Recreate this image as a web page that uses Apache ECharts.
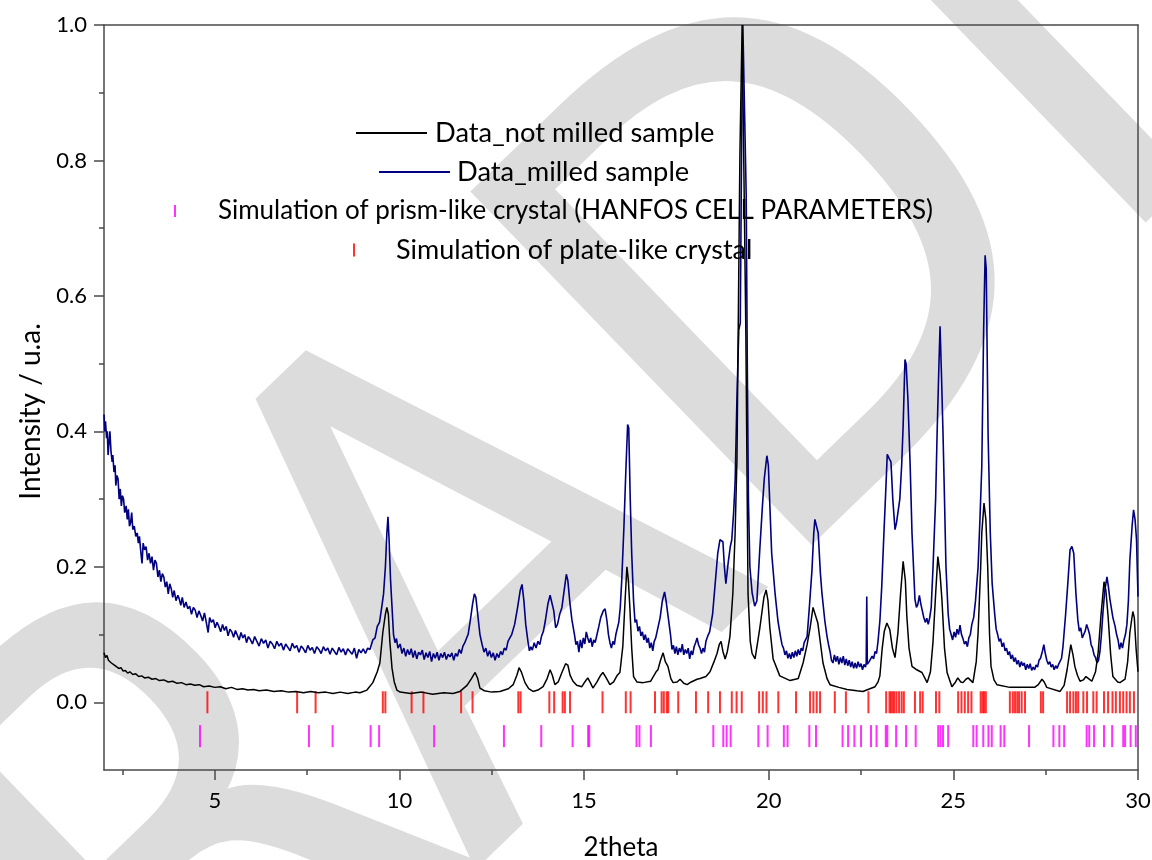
<!DOCTYPE html>
<html>
<head>
<meta charset="utf-8">
<script src="https://cdn.jsdelivr.net/npm/echarts@6/dist/echarts.min.js"></script>
<style>
html,body{margin:0;padding:0;background:#fff;}
#chart{width:1152px;height:860px;}
</style>
</head>
<body>
<div id="chart"></div>
<script>
// ---- data ----
const notMilled = [
[2.00,0.073],[2.04,0.066],[2.08,0.069],[2.12,0.062],[2.16,0.063],[2.20,0.058],[2.25,0.059],[2.30,0.054],
[2.35,0.055],[2.40,0.050],[2.46,0.051],[2.52,0.046],[2.58,0.047],[2.64,0.043],[2.70,0.045],[2.78,0.041],
[2.86,0.042],[2.94,0.038],[3.02,0.039],[3.10,0.036],[3.20,0.037],[3.30,0.034],[3.40,0.035],[3.50,0.032],
[3.62,0.033],[3.74,0.030],[3.86,0.031],[3.98,0.028],[4.10,0.029],[4.22,0.026],[4.34,0.027],[4.46,0.025],
[4.58,0.026],[4.70,0.023],[4.85,0.024],[5.00,0.022],[5.15,0.023],[5.30,0.020],[5.45,0.022],[5.60,0.019],
[5.75,0.020],[5.90,0.018],[6.05,0.019],[6.20,0.017],[6.40,0.018],[6.60,0.016],[6.80,0.017],[7.00,0.015],
[7.20,0.016],[7.40,0.014],[7.60,0.016],[7.80,0.014],[8.00,0.015],[8.20,0.013],[8.40,0.015],[8.60,0.013],
[8.80,0.015],[8.93,0.014],[9.12,0.018],[9.28,0.029],[9.40,0.045],[9.47,0.058],[9.55,0.103],[9.62,0.130],
[9.66,0.140],[9.70,0.130],[9.74,0.090],[9.80,0.050],[9.86,0.030],[9.93,0.018],[10.02,0.015],[10.30,0.013],
[10.60,0.015],[10.90,0.012],[11.20,0.014],[11.45,0.013],[11.64,0.016],[11.83,0.025],[11.95,0.035],[12.05,0.044],
[12.12,0.035],[12.18,0.021],[12.30,0.017],[12.50,0.015],[12.72,0.016],[12.95,0.020],[13.08,0.026],[13.18,0.040],
[13.24,0.051],[13.30,0.045],[13.40,0.029],[13.50,0.020],[13.62,0.016],[13.75,0.018],[13.89,0.023],[14.00,0.035],
[14.08,0.048],[14.14,0.040],[14.21,0.026],[14.30,0.030],[14.40,0.044],[14.50,0.057],[14.56,0.055],[14.62,0.040],
[14.70,0.031],[14.80,0.025],[14.94,0.023],[15.02,0.030],[15.10,0.036],[15.18,0.028],[15.24,0.021],[15.35,0.030],
[15.45,0.040],[15.51,0.044],[15.58,0.038],[15.70,0.026],[15.80,0.030],[15.90,0.040],[15.97,0.044],[16.05,0.083],
[16.11,0.150],[16.16,0.200],[16.20,0.180],[16.24,0.140],[16.29,0.080],[16.34,0.038],[16.43,0.030],[16.60,0.029],
[16.80,0.031],[16.95,0.045],[17.00,0.048],[17.07,0.062],[17.14,0.073],[17.20,0.060],[17.27,0.053],[17.35,0.035],
[17.41,0.029],[17.52,0.030],[17.60,0.034],[17.70,0.028],[17.79,0.026],[17.90,0.030],[18.06,0.034],[18.14,0.035],
[18.30,0.038],[18.41,0.045],[18.52,0.060],[18.60,0.072],[18.66,0.085],[18.71,0.090],[18.76,0.075],[18.82,0.064],
[18.88,0.075],[18.95,0.097],[19.03,0.162],[19.09,0.250],[19.14,0.358],[19.22,0.810],[19.28,1.000],[19.33,1.000],
[19.38,0.550],[19.44,0.160],[19.50,0.090],[19.55,0.072],[19.63,0.064],[19.76,0.110],[19.87,0.155],[19.93,0.166],
[19.98,0.150],[20.03,0.110],[20.12,0.064],[20.30,0.039],[20.58,0.032],[20.80,0.035],[20.93,0.058],[21.04,0.085],
[21.12,0.110],[21.20,0.140],[21.25,0.142],[21.33,0.117],[21.47,0.058],[21.58,0.035],[21.66,0.026],[21.90,0.022],
[22.12,0.019],[22.39,0.017],[22.55,0.016],[22.74,0.020],[22.88,0.023],[22.96,0.030],[23.01,0.039],[23.07,0.078],
[23.13,0.105],[23.20,0.117],[23.28,0.107],[23.35,0.080],[23.42,0.066],[23.50,0.103],[23.57,0.160],[23.64,0.208],
[23.70,0.180],[23.74,0.127],[23.80,0.080],[23.88,0.053],[24.01,0.048],[24.15,0.044],[24.29,0.029],[24.38,0.045],
[24.45,0.090],[24.52,0.160],[24.58,0.215],[24.64,0.190],[24.69,0.152],[24.76,0.080],[24.83,0.044],[24.96,0.023],
[25.06,0.030],[25.12,0.036],[25.20,0.030],[25.26,0.029],[25.34,0.034],[25.40,0.036],[25.53,0.029],[25.62,0.060],
[25.67,0.103],[25.74,0.200],[25.77,0.250],[25.83,0.294],[25.88,0.270],[25.93,0.200],[25.98,0.100],[26.02,0.053],
[26.10,0.033],[26.18,0.026],[26.53,0.022],[26.88,0.022],[27.20,0.022],[27.30,0.026],[27.40,0.034],[27.46,0.030],
[27.53,0.022],[27.89,0.016],[28.00,0.025],[28.08,0.048],[28.18,0.085],[28.24,0.070],[28.29,0.053],[28.36,0.040],
[28.43,0.031],[28.52,0.033],[28.59,0.038],[28.66,0.035],[28.75,0.031],[28.85,0.045],[28.92,0.073],[29.00,0.130],
[29.08,0.178],[29.13,0.165],[29.19,0.127],[29.26,0.070],[29.32,0.038],[29.45,0.030],[29.51,0.029],[29.65,0.034],
[29.72,0.060],[29.78,0.103],[29.86,0.134],[29.90,0.125],[29.95,0.078],[30.00,0.045]
];

const milled = [
[2.00,0.425],[2.02,0.400],[2.04,0.415],[2.07,0.390],[2.09,0.400],[2.11,0.365],[2.13,0.380],[2.16,0.400],
[2.19,0.370],[2.22,0.355],[2.24,0.365],[2.27,0.340],[2.30,0.350],[2.32,0.320],[2.35,0.335],[2.38,0.330],
[2.41,0.300],[2.44,0.315],[2.47,0.290],[2.50,0.305],[2.53,0.300],[2.56,0.280],[2.60,0.290],[2.63,0.270],
[2.66,0.285],[2.69,0.260],[2.72,0.265],[2.75,0.280],[2.78,0.255],[2.82,0.260],[2.86,0.245],[2.90,0.250],
[2.93,0.235],[2.96,0.245],[3.00,0.220],[3.03,0.205],[3.06,0.235],[3.10,0.225],[3.14,0.230],[3.18,0.210],
[3.22,0.220],[3.26,0.205],[3.30,0.215],[3.34,0.195],[3.38,0.210],[3.42,0.205],[3.46,0.185],[3.50,0.195],
[3.54,0.178],[3.58,0.190],[3.62,0.185],[3.66,0.170],[3.70,0.178],[3.74,0.160],[3.78,0.175],[3.82,0.168],
[3.86,0.155],[3.90,0.165],[3.95,0.150],[4.00,0.158],[4.04,0.152],[4.08,0.143],[4.12,0.155],[4.17,0.140],
[4.22,0.148],[4.27,0.138],[4.32,0.142],[4.37,0.130],[4.42,0.140],[4.47,0.136],[4.52,0.125],[4.57,0.135],
[4.62,0.128],[4.67,0.120],[4.72,0.132],[4.77,0.118],[4.82,0.103],[4.86,0.125],[4.91,0.118],[4.96,0.122],
[5.01,0.110],[5.06,0.118],[5.11,0.112],[5.16,0.104],[5.21,0.115],[5.26,0.106],[5.31,0.112],[5.36,0.098],
[5.41,0.108],[5.46,0.104],[5.51,0.096],[5.56,0.106],[5.61,0.099],[5.66,0.092],[5.71,0.103],[5.76,0.095],
[5.81,0.100],[5.86,0.088],[5.91,0.097],[5.96,0.093],[6.02,0.086],[6.08,0.097],[6.14,0.090],[6.20,0.083],
[6.26,0.094],[6.32,0.087],[6.38,0.092],[6.44,0.080],[6.50,0.090],[6.56,0.086],[6.62,0.079],[6.68,0.090],
[6.74,0.083],[6.80,0.087],[6.86,0.077],[6.92,0.086],[6.98,0.081],[7.04,0.076],[7.10,0.087],[7.16,0.080],
[7.22,0.084],[7.28,0.074],[7.34,0.083],[7.40,0.079],[7.46,0.073],[7.52,0.084],[7.58,0.077],[7.64,0.081],
[7.70,0.072],[7.76,0.082],[7.82,0.078],[7.88,0.072],[7.94,0.082],[8.00,0.076],[8.06,0.080],[8.12,0.071],
[8.18,0.080],[8.24,0.075],[8.30,0.070],[8.36,0.081],[8.42,0.074],[8.48,0.079],[8.54,0.070],[8.60,0.079],
[8.66,0.075],[8.72,0.071],[8.78,0.080],[8.84,0.065],[8.90,0.078],[8.96,0.073],[9.02,0.079],[9.08,0.072],
[9.14,0.080],[9.20,0.078],[9.28,0.092],[9.34,0.095],[9.40,0.112],[9.46,0.118],[9.52,0.140],[9.57,0.160],
[9.62,0.200],[9.66,0.250],[9.69,0.274],[9.72,0.240],[9.76,0.180],[9.80,0.140],[9.84,0.100],[9.88,0.088],
[9.92,0.094],[9.96,0.080],[10.02,0.086],[10.07,0.072],[10.12,0.080],[10.17,0.068],[10.22,0.078],[10.27,0.070],
[10.32,0.079],[10.37,0.066],[10.42,0.076],[10.47,0.064],[10.52,0.074],[10.57,0.070],[10.62,0.077],[10.67,0.063],
[10.72,0.073],[10.77,0.066],[10.82,0.075],[10.87,0.060],[10.92,0.072],[10.97,0.065],[11.02,0.074],[11.07,0.062],
[11.12,0.072],[11.17,0.066],[11.22,0.074],[11.27,0.063],[11.32,0.071],[11.37,0.067],[11.42,0.073],[11.47,0.062],
[11.52,0.072],[11.57,0.068],[11.62,0.078],[11.67,0.072],[11.72,0.083],[11.77,0.088],[11.82,0.095],[11.86,0.100],
[11.93,0.125],[11.98,0.145],[12.03,0.160],[12.07,0.155],[12.12,0.130],[12.18,0.100],[12.24,0.085],[12.29,0.074],
[12.34,0.080],[12.39,0.068],[12.44,0.076],[12.49,0.066],[12.54,0.073],[12.59,0.062],[12.64,0.072],[12.69,0.066],
[12.74,0.075],[12.79,0.070],[12.84,0.080],[12.89,0.077],[12.94,0.090],[12.99,0.095],[13.04,0.100],[13.12,0.115],
[13.20,0.140],[13.27,0.165],[13.32,0.174],[13.37,0.150],[13.42,0.115],[13.48,0.090],[13.52,0.076],[13.56,0.082],
[13.60,0.077],[13.65,0.088],[13.70,0.080],[13.75,0.090],[13.80,0.085],[13.85,0.098],[13.90,0.105],[13.95,0.120],
[14.02,0.145],[14.08,0.158],[14.13,0.160],[14.18,0.135],[14.23,0.110],[14.28,0.115],[14.34,0.130],[14.40,0.140],
[14.46,0.165],[14.52,0.189],[14.56,0.180],[14.62,0.145],[14.67,0.122],[14.74,0.100],[14.78,0.085],[14.82,0.090],
[14.86,0.074],[14.90,0.092],[14.94,0.080],[14.98,0.095],[15.02,0.086],[15.06,0.104],[15.10,0.095],[15.14,0.088],
[15.18,0.095],[15.22,0.082],[15.26,0.092],[15.30,0.088],[15.35,0.100],[15.40,0.112],[15.45,0.125],[15.52,0.135],
[15.57,0.138],[15.62,0.120],[15.66,0.100],[15.70,0.088],[15.74,0.080],[15.78,0.090],[15.82,0.085],[15.86,0.100],
[15.90,0.098],[15.94,0.118],[15.98,0.140],[16.02,0.180],[16.08,0.260],[16.13,0.340],[16.18,0.410],[16.21,0.405],
[16.25,0.300],[16.29,0.220],[16.34,0.150],[16.38,0.118],[16.42,0.122],[16.46,0.105],[16.50,0.112],[16.54,0.098],
[16.58,0.104],[16.62,0.092],[16.66,0.100],[16.70,0.088],[16.74,0.095],[16.78,0.080],[16.82,0.088],[16.86,0.076],
[16.90,0.090],[16.94,0.095],[16.98,0.105],[17.02,0.115],[17.06,0.125],[17.12,0.150],[17.18,0.163],[17.22,0.150],
[17.28,0.125],[17.34,0.100],[17.38,0.078],[17.42,0.084],[17.46,0.072],[17.50,0.082],[17.54,0.070],[17.58,0.080],
[17.62,0.074],[17.66,0.086],[17.70,0.070],[17.74,0.078],[17.78,0.072],[17.82,0.080],[17.86,0.064],[17.90,0.076],
[17.94,0.070],[17.98,0.082],[18.02,0.088],[18.06,0.095],[18.10,0.085],[18.14,0.080],[18.18,0.072],[18.22,0.080],
[18.26,0.074],[18.30,0.090],[18.35,0.098],[18.40,0.104],[18.48,0.130],[18.55,0.175],[18.62,0.220],[18.68,0.240],
[18.76,0.237],[18.80,0.200],[18.84,0.175],[18.90,0.205],[18.96,0.230],[19.00,0.240],[19.05,0.280],[19.09,0.325],
[19.14,0.450],[19.19,0.550],[19.23,0.560],[19.27,0.850],[19.30,1.000],[19.35,1.000],[19.39,0.750],[19.42,0.500],
[19.45,0.300],[19.49,0.200],[19.55,0.162],[19.62,0.142],[19.68,0.150],[19.76,0.227],[19.83,0.290],[19.88,0.330],
[19.95,0.364],[19.99,0.350],[20.03,0.292],[20.08,0.220],[20.17,0.162],[20.25,0.120],[20.32,0.097],[20.36,0.085],
[20.40,0.080],[20.44,0.070],[20.48,0.076],[20.52,0.065],[20.56,0.072],[20.60,0.064],[20.64,0.074],[20.68,0.066],
[20.72,0.076],[20.76,0.068],[20.80,0.078],[20.84,0.070],[20.88,0.080],[20.92,0.076],[20.96,0.088],[21.00,0.086],
[21.04,0.097],[21.10,0.140],[21.17,0.194],[21.22,0.250],[21.25,0.270],[21.30,0.268],[21.34,0.250],[21.40,0.190],
[21.44,0.162],[21.52,0.120],[21.58,0.097],[21.62,0.085],[21.66,0.075],[21.70,0.062],[21.74,0.058],[21.78,0.070],
[21.82,0.060],[21.86,0.068],[21.90,0.056],[21.94,0.066],[21.98,0.058],[22.02,0.068],[22.06,0.055],[22.10,0.064],
[22.14,0.054],[22.18,0.062],[22.22,0.052],[22.26,0.060],[22.30,0.050],[22.34,0.058],[22.38,0.050],[22.42,0.060],
[22.46,0.052],[22.50,0.057],[22.54,0.048],[22.58,0.056],[22.62,0.052],[22.64,0.058],[22.655,0.156],[22.67,0.056],
[22.72,0.060],[22.76,0.058],[22.80,0.068],[22.84,0.064],[22.88,0.075],[22.92,0.072],[22.96,0.090],[23.01,0.120],
[23.06,0.170],[23.12,0.250],[23.16,0.300],[23.21,0.366],[23.26,0.360],[23.31,0.355],[23.36,0.300],[23.42,0.255],
[23.46,0.265],[23.55,0.300],[23.60,0.350],[23.64,0.408],[23.69,0.506],[23.72,0.500],[23.77,0.447],[23.83,0.350],
[23.88,0.250],[23.96,0.152],[24.00,0.140],[24.04,0.145],[24.08,0.158],[24.12,0.145],[24.16,0.135],[24.20,0.125],
[24.24,0.118],[24.28,0.124],[24.32,0.115],[24.36,0.125],[24.40,0.140],[24.45,0.200],[24.52,0.300],[24.56,0.397],
[24.61,0.500],[24.64,0.555],[24.68,0.480],[24.72,0.397],[24.76,0.300],[24.80,0.200],[24.86,0.130],[24.90,0.108],
[24.94,0.100],[24.98,0.092],[25.02,0.104],[25.06,0.096],[25.10,0.108],[25.14,0.100],[25.18,0.114],[25.22,0.100],
[25.26,0.094],[25.30,0.086],[25.34,0.090],[25.38,0.082],[25.42,0.095],[25.46,0.100],[25.50,0.115],[25.55,0.125],
[25.60,0.150],[25.67,0.200],[25.72,0.270],[25.77,0.348],[25.82,0.550],[25.86,0.660],[25.89,0.640],[25.94,0.397],
[26.00,0.250],[26.05,0.176],[26.12,0.130],[26.16,0.108],[26.20,0.100],[26.24,0.090],[26.28,0.094],[26.32,0.082],
[26.36,0.088],[26.40,0.076],[26.44,0.080],[26.48,0.070],[26.52,0.075],[26.56,0.064],[26.60,0.070],[26.64,0.060],
[26.68,0.066],[26.72,0.056],[26.76,0.062],[26.80,0.052],[26.84,0.060],[26.88,0.054],[26.92,0.058],[26.96,0.048],
[27.00,0.056],[27.04,0.050],[27.08,0.057],[27.12,0.047],[27.16,0.052],[27.20,0.048],[27.24,0.055],[27.28,0.052],
[27.32,0.062],[27.36,0.065],[27.41,0.075],[27.45,0.085],[27.49,0.072],[27.53,0.062],[27.57,0.056],[27.61,0.060],
[27.65,0.052],[27.69,0.056],[27.73,0.048],[27.77,0.054],[27.81,0.050],[27.85,0.056],[27.89,0.055],[27.93,0.065],
[27.97,0.083],[28.04,0.130],[28.10,0.176],[28.16,0.225],[28.21,0.230],[28.26,0.220],[28.32,0.160],[28.37,0.122],
[28.41,0.105],[28.45,0.110],[28.49,0.095],[28.53,0.100],[28.57,0.105],[28.61,0.115],[28.65,0.108],[28.69,0.100],
[28.73,0.085],[28.77,0.080],[28.81,0.070],[28.85,0.066],[28.89,0.058],[28.93,0.062],[28.97,0.075],[29.01,0.100],
[29.05,0.132],[29.10,0.165],[29.16,0.185],[29.20,0.170],[29.24,0.152],[29.32,0.125],[29.38,0.112],[29.42,0.100],
[29.46,0.092],[29.50,0.078],[29.54,0.088],[29.58,0.080],[29.62,0.092],[29.66,0.100],[29.70,0.115],[29.74,0.150],
[29.78,0.210],[29.84,0.260],[29.88,0.284],[29.92,0.270],[29.96,0.240],[30.00,0.156]
];

// simulated reflection positions (2theta)
const plateTicks = [4.80,7.23,7.73,9.55,9.62,10.33,10.65,11.67,11.98,13.22,13.28,14.06,14.19,14.42,14.48,14.62,
15.50,16.13,16.26,16.92,17.10,17.16,17.24,17.28,17.55,18.03,18.36,18.68,19.00,19.13,19.27,19.74,19.84,19.94,
20.26,20.74,21.12,21.21,21.30,21.39,21.79,22.09,22.70,23.18,23.27,23.31,23.36,23.40,23.46,23.53,23.60,23.66,
23.96,24.10,24.17,24.53,24.62,25.13,25.22,25.31,25.40,25.49,25.74,25.79,25.83,25.88,26.53,26.61,26.67,26.73,
26.78,26.85,26.94,27.37,27.43,28.08,28.16,28.25,28.32,28.38,28.52,28.62,28.79,28.88,29.08,29.19,29.31,29.40,
29.51,29.60,29.69,29.78,29.89];
const prismTicks = [4.60,7.55,8.19,9.22,9.45,10.94,12.83,13.84,14.69,15.11,15.14,16.42,16.50,16.81,18.50,18.77,
18.86,18.97,19.72,19.97,20.41,20.51,21.10,21.28,22.00,22.15,22.32,22.50,22.77,22.92,23.17,23.21,23.45,23.72,
23.98,24.59,24.65,24.72,24.86,25.54,25.63,25.81,25.95,26.04,26.28,26.38,27.05,27.71,27.87,28.00,28.61,28.68,
28.81,29.08,29.30,29.60,29.65,29.80,29.94];
const plateRow = 0;
const prismRow = -0.05;

const xMajor = [5,10,15,20,25,30];
const xMinor = [2.5,7.5,12.5,17.5,22.5,27.5];
const yMajor = [0.0,0.2,0.4,0.6,0.8,1.0];
const yMinor = [0.1,0.3,0.5,0.7,0.9];

const names = ['Data_not milled sample','Data_milled sample',
  'Simulation of prism-like crystal (HANFOS CELL PARAMETERS)','Simulation of plate-like crystal'];

// ---- chart ----
const FONT = 'Lato';
const AX = '#4a4a4a';
const chart = echarts.init(document.getElementById('chart'), null, {renderer:'canvas'});

function legendBox(name, left, top, iw, ih, padLeft, fs){
  return {
    data:[{name:name, icon:'rect'}], left:left, top:top, padding:0, itemGap:0,
    itemWidth:iw, itemHeight:ih, orient:'horizontal', selectedMode:true,
    textStyle:{fontFamily:FONT, fontSize:fs, color:'#000', lineHeight:28, padding:[0,0,0,padLeft]}
  };
}

const option = {
  animation:false,
  backgroundColor:'#fff',
  textStyle:{fontFamily:FONT},
  grid:{left:104, right:14, top:25, bottom:90, containLabel:false, outerBoundsMode:'none'},
  legend:[
    legendBox(names[0], 356, 119, 71, 2, 3, 27.3),
    legendBox(names[1], 379, 158, 71, 2, 2, 27.3),
    legendBox(names[2], 174, 197, 2, 12, 37, 26),
    legendBox(names[3], 353, 236, 2, 13, 36, 27)
  ],
  xAxis:[
    {type:'value', position:'bottom', min:2, max:30, name:'2theta', nameLocation:'middle', nameGap:65,
     nameTextStyle:{fontFamily:FONT, fontSize:26, color:'#000'},
     axisLine:{show:true, onZero:false, lineStyle:{color:AX, width:1.5}},
     axisTick:{show:true, inside:false, length:10, customValues:xMajor, lineStyle:{color:AX, width:1.5}},
     axisLabel:{show:true, customValues:xMajor, margin:20, fontFamily:FONT, fontSize:22, color:'#000'},
     splitLine:{show:false}},
    {type:'value', position:'bottom', min:2, max:30,
     axisLine:{show:false, onZero:false},
     axisTick:{show:true, inside:false, length:5, customValues:xMinor, lineStyle:{color:AX, width:1.5}},
     axisLabel:{show:false}, splitLine:{show:false}},
    {type:'value', position:'top', min:2, max:30,
     axisLine:{show:true, onZero:false, lineStyle:{color:AX, width:1.5}},
     axisTick:{show:false}, axisLabel:{show:false}, splitLine:{show:false}}
  ],
  yAxis:[
    {type:'value', position:'left', min:-0.1, max:1.0, name:'Intensity / u.a.', nameLocation:'middle', nameGap:59,
     nameTextStyle:{fontFamily:FONT, fontSize:28, color:'#000', padding:[0,28,0,0]},
     axisLine:{show:true, onZero:false, lineStyle:{color:AX, width:1.5}},
     axisTick:{show:true, inside:false, length:10, customValues:yMajor, lineStyle:{color:AX, width:1.5}},
     axisLabel:{show:true, customValues:yMajor, margin:17, fontFamily:FONT, fontSize:22, color:'#000',
       formatter:function(v){return v.toFixed(1);}},
     splitLine:{show:false}},
    {type:'value', position:'left', min:-0.1, max:1.0,
     axisLine:{show:false, onZero:false},
     axisTick:{show:true, inside:false, length:5, customValues:yMinor, lineStyle:{color:AX, width:1.5}},
     axisLabel:{show:false}, splitLine:{show:false}},
    {type:'value', position:'right', min:-0.1, max:1.0,
     axisLine:{show:true, onZero:false, lineStyle:{color:AX, width:1.5}},
     axisTick:{show:false}, axisLabel:{show:false}, splitLine:{show:false}}
  ],
  graphic:[{
    type:'text', z:-10, silent:true,
    x:590, y:515, rotation:44*Math.PI/180,
    style:{text:'RADI', fontFamily:'"Liberation Sans Narrow", "DejaVu Sans Condensed", "DejaVu Sans"',
      fontSize:670, fontWeight:'normal',
      fill:'#dcdcdc', stroke:'#dcdcdc', lineWidth:3, lineJoin:'round',
      align:'center', verticalAlign:'middle'}
  }],
  series:[
    {name:names[0], type:'line', data:notMilled, showSymbol:false, symbol:'none', color:'#000000',
     lineStyle:{color:'#000000', width:1.5}, z:4},
    {name:names[1], type:'line', data:milled, showSymbol:false, symbol:'none', color:'#000080',
     lineStyle:{color:'#000080', width:1.6}, z:3},
    {name:names[2], type:'scatter', data:prismTicks.map(function(v){return [v, prismRow];}),
     symbol:'rect', symbolSize:[2,22], color:'#ff00ff', itemStyle:{color:'#ff00ff'}, z:3},
    {name:names[3], type:'scatter', data:plateTicks.map(function(v){return [v, plateRow];}),
     symbol:'rect', symbolSize:[2,22], color:'#ff0000', itemStyle:{color:'#ff0000'}, z:3}
  ]
};
chart.setOption(option);
</script>
</body>
</html>
